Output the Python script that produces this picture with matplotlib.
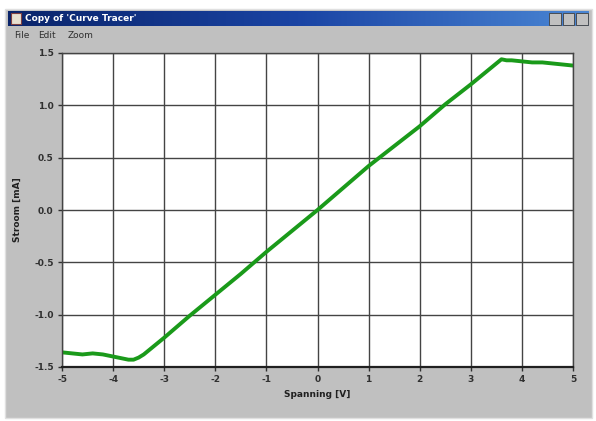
import matplotlib.pyplot as plt
import numpy as np
from matplotlib.colors import LinearSegmentedColormap
from matplotlib.patches import Rectangle

# curve (Spanning [V] -> Stroom [mA])
voltage = [-5.0, -4.8, -4.6, -4.4, -4.2, -4.0, -3.8, -3.7, -3.6, -3.5, -3.4,
           -3.2, -3.0, -2.5, -2.0, -1.5, -1.0, -0.5, 0.0, 0.5, 1.0, 1.5,
           2.0, 2.5, 3.0, 3.3, 3.5, 3.6, 3.7, 3.8, 4.0, 4.2, 4.4, 4.6, 4.8, 5.0]
current = [-1.36, -1.37, -1.38, -1.37, -1.38, -1.40, -1.42, -1.43, -1.43, -1.41, -1.38,
           -1.30, -1.22, -1.01, -0.81, -0.61, -0.40, -0.20, 0.0, 0.21, 0.42, 0.61,
           0.80, 1.01, 1.20, 1.32, 1.40, 1.44, 1.43, 1.43, 1.42, 1.41, 1.41, 1.40, 1.39, 1.38]

x_ticks = [-5, -4, -3, -2, -1, 0, 1, 2, 3, 4, 5]
y_ticks = [-1.5, -1.0, -0.5, 0.0, 0.5, 1.0, 1.5]

W, H = 596, 421
fig = plt.figure(figsize=(W / 100, H / 100), dpi=100)
fig.patch.set_facecolor("white")


def px(x0, y0, x1, y1):
    # pixel box -> figure fraction rect
    return [x0 / W, 1 - y1 / H, (x1 - x0) / W, (y1 - y0) / H]


# window frame
r = px(5, 9, 592, 418)
fig.patches.append(Rectangle((r[0], r[1]), r[2], r[3], transform=fig.transFigure,
                             facecolor="#c0c0c0", edgecolor="#e0e0e0", lw=1,
                             zorder=-10))

# title bar gradient
tb = fig.add_axes(px(8, 11, 589, 26))
grad = np.linspace(0, 1, 256).reshape(1, -1)
cmap = LinearSegmentedColormap.from_list("tb", ["#0a246a", "#1a44a4", "#4a86d4"])
tb.imshow(grad, aspect="auto", cmap=cmap, extent=[0, 1, 0, 1])
tb.set_axis_off()
tb.add_patch(Rectangle((0.005, 0.15), 0.018, 0.7, facecolor="#e8e0d0",
                       edgecolor="#804040", lw=0.8))
tb.text(0.03, 0.5, "Copy of 'Curve Tracer'", color="white", fontsize=6.5,
        fontweight="bold", va="center", ha="left")
for bx in (0.932, 0.955, 0.978):
    tb.add_patch(Rectangle((bx, 0.1), 0.02, 0.8, facecolor="#c0c0c0",
                           edgecolor="#404040", lw=0.6))
tb.set_xlim(0, 1)
tb.set_ylim(0, 1)

# menu
for mx, label in [(14, "File"), (38, "Edit"), (68, "Zoom")]:
    fig.text(mx / W, 1 - 36 / H, label, fontsize=6.5, color="#303030", va="center")

# plot
ax = fig.add_axes(px(62, 53, 573, 367))
ax.set_facecolor("white")
ax.plot(voltage, current, color="#1a9a1a", lw=2.8, solid_capstyle="round")
ax.set_xlim(-5, 5)
ax.set_ylim(-1.5, 1.5)
ax.set_xticks(x_ticks)
ax.set_yticks(y_ticks)
ax.set_xticklabels([str(t) for t in x_ticks])
ax.set_yticklabels(["%.1f" % t for t in y_ticks])
ax.grid(True, color="#444444", lw=1.0)
ax.set_axisbelow(True)
for s in ax.spines.values():
    s.set_color("#444444")
    s.set_linewidth(1.0)
ax.spines["bottom"].set_color("#202020")
ax.spines["bottom"].set_linewidth(1.6)
ax.tick_params(labelsize=6.5, length=3, width=1, colors="#303030", pad=3)
for lbl in ax.get_xticklabels() + ax.get_yticklabels():
    lbl.set_fontweight("bold")
ax.set_xlabel("Spanning [V]", fontsize=6.5, fontweight="bold", color="#202020", labelpad=4)
ax.set_ylabel("Stroom [mA]", fontsize=6.5, fontweight="bold", color="#202020", labelpad=9)

fig.savefig("out.png", dpi=100, facecolor=fig.get_facecolor())
